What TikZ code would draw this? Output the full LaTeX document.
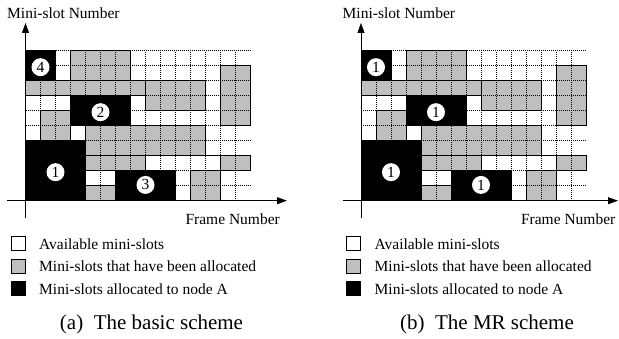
\documentclass[tikz,border=0pt]{standalone}
\usepackage{fontspec}
\setmainfont{Liberation Serif}
\usetikzlibrary{arrows.meta}
\tikzset{
  graycell/.style={fill=black!25},
  blockline/.style={draw=black, line width=0.8pt},
  gridline/.style={line width=0.55pt, dash pattern=on 1pt off 1pt},
  blackcell/.style={fill=black, draw=black, line width=0.8pt},
  numcirc/.style={circle, fill=white, minimum size=18pt, inner sep=0pt, font=\fontsize{15.5}{15.5}\selectfont},
  axisline/.style={line width=0.8pt, -{Triangle[length=10pt,width=7pt]}},
  lbl/.style={font=\fontsize{15.5}{18}\selectfont, inner sep=0pt},
  legbox/.style={draw=black, line width=0.7pt, minimum width=14pt, minimum height=14pt, inner sep=0pt},
  capt/.style={font=\fontsize{21}{24}\selectfont, inner sep=0pt}
}
\newcommand\slotpanel[8]{%
 % #1 x origin, #2 prefix, #3 x-axis length, #4-#7 labels, #8 caption
 \begin{scope}[shift={(#1,138.3)}]
   \begin{scope}[x=15pt,y=15pt]
     \foreach \xa/\ya/\xb/\yb in {3/8/7/10, 0/7/8/8, 8/6/12/8, 13/5/15/9, 1/4/3/6, 4/3/12/5, 4/2/8/3, 13/2/15/3, 4/0/6/1, 11/0/13/2}
        \fill[graycell] (\xa,\ya) rectangle (\xb,\yb);
     \foreach \k in {1,...,10} \draw[gridline] (0,\k) -- (15,\k);
     \foreach \k in {1,...,14} \draw[gridline] (\k,0) -- (\k,10);
     \foreach \xa/\ya/\xb/\yb in {3/8/7/10, 0/7/8/8, 8/6/12/8, 13/5/15/9, 1/4/3/6, 4/3/12/5, 4/2/8/3, 13/2/15/3, 4/0/6/1, 11/0/13/2}
        \draw[blockline] (\xa,\ya) rectangle (\xb,\yb);
     \draw[blockline] (12,3) -- (13,3);
     \filldraw[blackcell] (0,8) rectangle (2,10);
     \filldraw[blackcell] (3,5) rectangle (7,7);
     \filldraw[blackcell] (0,0) rectangle (4,4);
     \filldraw[blackcell] (6,0) rectangle (10,2);
     \node[numcirc] (#2na) at (1,8.9) {#4};
     \node[numcirc] (#2nb) at (5,5.9) {#5};
     \node[numcirc] (#2nc) at (2,1.9) {#6};
     \node[numcirc] (#2nd) at (8,1.05) {#7};
   \end{scope}
   \coordinate (#2yb) at (0,-17.3);
   \coordinate (#2yt) at (0,177.7);
   \coordinate (#2xl) at (-18.5,0);
   \coordinate (#2xr) at (#3,0);
   \draw[axisline] (#2yb) -- (#2yt);
   \draw[axisline] (#2xl) -- (#2xr);
   \node[lbl, anchor=base west] (#2ylab) at (-18.5,181.7) {Mini-slot Number};
   \node[lbl, anchor=base east] (#2xlab) at (254.5,-24.3) {Frame Number};
   \node[legbox, fill=white] (#2b1) at (-7.5,-42.8) {};
   \node[legbox, fill=black!25] (#2b2) at (-7.5,-65.3) {};
   \node[legbox, fill=black] (#2b3) at (-7.5,-87.8) {};
   \node[lbl, anchor=base west] (#2t1) at (13.5,-48.8) {Available mini-slots};
   \node[lbl, anchor=base west] (#2t2) at (13.5,-71.3) {Mini-slots that have been allocated};
   \node[lbl, anchor=base west] (#2t3) at (13.5,-93.8) {Mini-slots allocated to node A};
   \node[capt, anchor=base] (#2cap) at (126,-129.3) {#8};
 \end{scope}
}
\begin{document}
\begin{tikzpicture}[x=1pt,y=1pt]
  \useasboundingbox (0,0) rectangle (619,339);
  \slotpanel{25.5}{L}{261.5}{4}{2}{1}{3}{(a)~ The basic scheme}
  \slotpanel{361}{R}{257}{1}{1}{1}{1}{(b)~ The MR scheme}
\end{tikzpicture}
\end{document}
